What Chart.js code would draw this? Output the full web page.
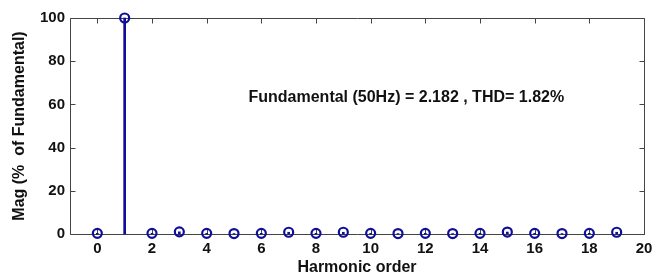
<!DOCTYPE html>
<html><head><meta charset="utf-8">
<script src="https://cdn.jsdelivr.net/npm/chart.js@4"></script>
<style>html,body{margin:0;padding:0;background:#fff}#w{width:665px;height:277px}</style>
</head><body><div id="w"><canvas id="c"></canvas></div>
<script>
const harmonicOrder = [0,1,2,3,4,5,6,7,8,9,10,11,12,13,14,15,16,17,18,19];
const magnitude = [0.3,100,0.3,1.0,0.3,0.2,0.3,0.8,0.3,0.8,0.3,0.2,0.3,0.2,0.3,0.9,0.3,0.2,0.3,0.8];
const xTickValues = [0,2,4,6,8,10,12,14,16,18,20];
const yTickValues = [0,20,40,60,80,100];
const annotationText = 'Fundamental (50Hz) = 2.182 , THD= 1.82%';
const annotationPos = {x: 5.53, y: 63};
const xTitle = 'Harmonic order';
const yTitle = 'Mag (%  of Fundamental)';

const NAVY = '#0e0e96';
const FONT = '"Liberation Sans", Arial, sans-serif';
const pts = harmonicOrder.map((h,i)=>({x:h,y:magnitude[i]}));

const frame = {
  id:'frame',
  afterDraw(chart){
    const {ctx, chartArea:a, scales:{x,y}} = chart;
    ctx.save();
    ctx.fillStyle = '#111';
    ctx.font = 'bold 16px ' + FONT;
    ctx.textBaseline = 'middle'; ctx.textAlign='left';
    ctx.fillText(annotationText, x.getPixelForValue(annotationPos.x), y.getPixelForValue(annotationPos.y));
    ctx.restore();
  },
  beforeDatasetsDraw(chart){
    const {ctx, chartArea:a, scales:{x,y}} = chart;
    ctx.save();
    ctx.strokeStyle = '#444'; ctx.lineWidth = 1;
    ctx.beginPath();
    const L=Math.round(a.left)+0.5, R=Math.round(a.right)+0.5, T=Math.round(a.top)+0.5, B=Math.round(a.bottom)+0.5;
    ctx.rect(L,T,R-L,B-T);
    x.ticks.forEach(t=>{const p=Math.round(x.getPixelForValue(t.value))+0.5; ctx.moveTo(p,B); ctx.lineTo(p,B-5); ctx.moveTo(p,T); ctx.lineTo(p,T+5);});
    y.ticks.forEach(t=>{const p=Math.round(y.getPixelForValue(t.value))+0.5; ctx.moveTo(L,p); ctx.lineTo(L+5,p); ctx.moveTo(R,p); ctx.lineTo(R-5,p);});
    ctx.stroke();
    ctx.restore();
  }
};

new Chart(document.getElementById('c'), {
  type:'bar',
  data:{datasets:[
    {type:'scatter', data:pts, pointStyle:'circle', pointRadius:4.5, pointBorderWidth:2.2, borderColor:NAVY, backgroundColor:'rgba(255,255,255,0)', order:0, clip:false},
    {type:'bar', data:pts, backgroundColor:NAVY, barThickness:2, grouped:false, order:1, clip:false}
  ]},
  plugins:[frame],
  options:{
    responsive:true, maintainAspectRatio:false, animation:false,
    layout:{padding:{top:18,right:21,left:0,bottom:0}},
    plugins:{legend:{display:false}, tooltip:{enabled:false}},
    scales:{
      x:{type:'linear', min:-1, max:20, offset:false,
        afterBuildTicks(s){s.ticks = xTickValues.map(v=>({value:v}));},
        afterFit(s){s.height=43;},
        grid:{display:false, drawTicks:false}, border:{display:false},
        ticks:{color:'#111', font:{family:FONT, size:15, weight:'bold'}, padding:6, maxRotation:0, autoSkip:false},
        title:{display:true, text:xTitle, color:'#111', font:{family:FONT, size:16, weight:'bold'}, padding:{top:0,bottom:0}}
      },
      y:{min:0, max:100,
        afterBuildTicks(s){s.ticks = yTickValues.map(v=>({value:v}));},
        afterFit(s){s.width=70;},
        grid:{display:false, drawTicks:false}, border:{display:false},
        ticks:{color:'#111', font:{family:FONT, size:15, weight:'bold'}, padding:5},
        title:{display:true, text:yTitle, color:'#111', font:{family:FONT, size:16, weight:'bold'}, padding:{top:10,bottom:4}}
      }
    }
  }
});
</script></body></html>
